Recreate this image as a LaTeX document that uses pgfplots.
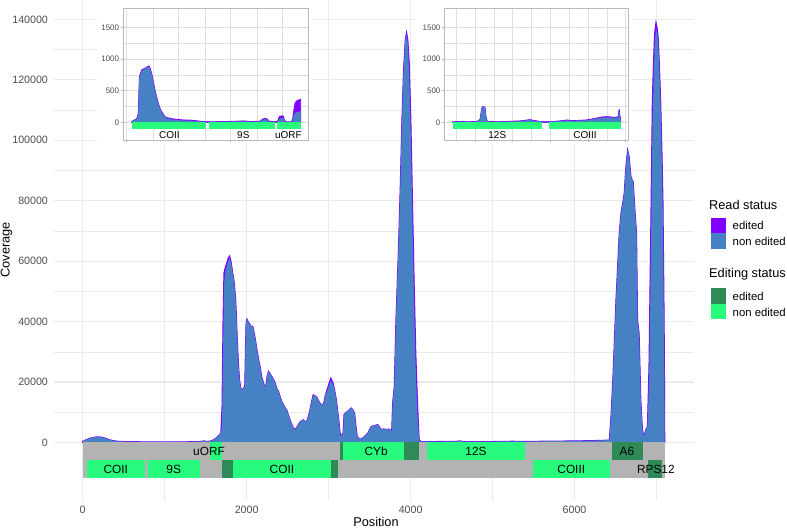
\documentclass[border=0pt]{standalone}
\usepackage{pgfplots}
\usepackage{pgfplotstable}
\pgfplotsset{compat=1.18}
\usepackage{fontspec}
\setmainfont{Liberation Sans}

\definecolor{EdPurple}{RGB}{127,0,255}
\definecolor{NeBlue}{RGB}{70,130,195}
\definecolor{EdGreen}{RGB}{46,139,87}
\definecolor{NeGreen}{RGB}{40,250,125}
\definecolor{TrackGray}{RGB}{179,179,179}
\definecolor{GridGray}{RGB}{235,235,235}
\definecolor{InsetGrid}{RGB}{222,222,222}
\definecolor{BoxGray}{RGB}{185,185,185}
\definecolor{TickGray}{RGB}{77,77,77}

% coverage along the whole maxicircle: position, all reads, non edited reads
\pgfplotstableread{
pos total nonedit
0 0 0
0 300 300
40 900 900
100 1500 1500
160 1800 1800
220 1800 1800
280 1400 1400
340 800 800
420 400 400
550 250 250
800 200 200
1000 150 150
1200 200 200
1400 250 250
1480 500 500
1520 300 300
1580 600 600
1630 1500 1500
1665 2500 2500
1685 3000 3000
1700 12000 6000
1712 40000 30000
1723 56000 52000
1740 58000 56500
1759 59500 58500
1775 61000 60200
1792 61700 61000
1808 60000 59500
1825 57000 57000
1844 53800 53800
1864 48300 48300
1875 42000 42000
1884 35000 35000
1900 26000 26000
1913 20700 20700
1930 17800 17800
1944 17400 17400
1960 17900 17900
1977 18500 18500
1985 30000 30000
1993 39500 39500
2003 40800 40800
2013 40200 40200
2025 39800 39800
2035 39200 39200
2046 38900 38900
2060 38000 38000
2075 38400 38400
2086 37000 37000
2097 35500 35500
2107 34000 34000
2127 30500 30500
2147 27300 27300
2165 25000 25000
2185 21500 21500
2207 19600 19600
2222 18500 18500
2235 18700 18700
2250 22000 22000
2268 23500 23500
2288 22600 22600
2308 21800 21800
2329 20800 20800
2349 19600 19600
2369 17800 17800
2389 16900 16900
2410 15000 15000
2430 13500 13500
2449 12500 12500
2469 11500 11500
2489 10800 10800
2510 9000 9000
2530 7500 7500
2550 6000 6000
2571 4900 4900
2591 4200 4200
2611 5000 5000
2631 5900 5900
2651 6800 6800
2671 7200 7200
2692 7500 7500
2711 7000 7000
2731 6900 6900
2751 8500 8500
2772 10800 10800
2792 13500 13500
2812 15800 15800
2832 15400 15400
2852 15200 15200
2873 14000 14000
2894 13000 13000
2914 12600 12600
2934 12500 12500
2948 14000 14000
2961 15800 15800
2978 17200 16800
2994 18500 17900
3010 20000 19300
3027 21300 20500
3041 20500 19900
3055 19600 19200
3075 17000 17000
3095 14100 14100
3110 10500 10500
3124 7500 7500
3136 4000 4000
3148 2000 2000
3165 2800 2800
3176 3100 3100
3188 9200 9200
3212 10000 10000
3236 10300 10300
3256 11000 11000
3276 11400 11400
3296 10800 10800
3317 9700 9700
3333 5500 5500
3349 2000 2000
3373 1300 1300
3397 1100 1100
3437 2000 2000
3478 3100 3100
3498 4200 4200
3518 5300 5300
3558 5600 5600
3599 5900 5900
3620 5200 5200
3639 4200 4200
3670 4500 4500
3700 4300 4300
3741 4400 4400
3769 3600 3600
3781 13000 13000
3801 18500 18500
3821 40600 40600
3850 62600 62600
3874 84700 84700
3894 106700 106700
3914 123200 123200
3935 133200 133200
3951 135600 135000
3966 133200 132000
3983 125500 122500
4003 106700 101000
4023 79200 72000
4044 51600 45000
4063 29600 24000
4084 13000 9000
4104 900 600
4124 300 300
4300 300 300
4550 350 350
4600 500 500
4650 300 300
5000 300 300
5250 400 400
5400 300 300
5600 400 400
6000 500 500
6200 600 600
6350 700 700
6424 800 800
6445 9000 9000
6465 19600 19600
6485 33000 33000
6505 47200 47200
6525 58000 58000
6545 69200 69200
6566 75800 75800
6586 79000 79000
6606 82500 82500
6626 91300 91300
6647 96800 96800
6666 94600 94600
6687 88000 88000
6700 87000 87000
6715 86300 86300
6739 75800 75800
6756 69200 69200
6768 40600 40600
6787 36200 36200
6808 14100 14100
6828 4200 4200
6848 2000 2000
6869 4200 4200
6889 5300 5300
6908 25100 20000
6929 69200 58000
6949 113300 103000
6963 126000 119000
6977 135400 131500
6993 138900 137000
7008 137000 135500
7022 133200 131800
7036 124000 122500
7050 113300 111000
7065 97000 93000
7078 80200 74000
7090 47200 38000
7095 30000 20000
7100 0 0
}\maincov

% zoom on COII / 9S / uORF
\pgfplotstableread{
pos total nonedit
48 0 0
48 15 15
96 60 55
111 145 140
121 720 710
144 830 820
176 855 845
208 890 880
220 880 870
240 775 765
256 640 630
272 510 500
288 400 390
304 300 290
320 225 215
336 170 160
357 115 105
378 80 70
430 60 50
481 50 40
540 40 32
609 38 30
680 25 18
737 15 10
763 12 8
820 12 8
950 15 10
1050 20 15
1121 25 18
1200 15 10
1280 20 15
1310 55 45
1330 66 55
1350 55 45
1370 20 12
1429 12 8
1450 20 10
1467 92 60
1490 105 70
1506 100 65
1515 40 20
1530 10 5
1586 12 5
1596 60 30
1602 145 90
1618 302 150
1634 340 160
1650 354 170
1665 360 175
1673 365 180
1673 0 0
}\insetA

% zoom on 12S / COIII
\pgfplotstableread{
pos total nonedit
4205 0 0
4205 12 10
4300 15 12
4400 12 10
4524 15 12
4568 50 48
4580 150 148
4590 223 220
4603 250 248
4620 245 243
4634 240 238
4647 92 90
4665 15 12
4800 12 10
4950 18 15
5100 25 20
5200 40 35
5232 45 38
5270 35 30
5387 12 10
5488 12 10
5560 18 15
5630 25 20
5719 39 32
5800 30 25
5900 35 30
5980 40 35
6051 55 48
6100 65 58
6161 82 72
6200 88 78
6250 92 82
6300 88 78
6338 82 72
6390 85 75
6405 95 85
6412 190 180
6418 198 188
6425 100 90
6436 80 70
6436 0 0
}\insetB

% one gene box: x from, x to, y from, y to, colour
\newcommand{\gene}[5]{\addplot[fill=#5, draw=none, forget plot] coordinates {(#1,#3) (#2,#3) (#2,#4) (#1,#4)} -- cycle;}

\begin{document}
\begin{tikzpicture}
% page = 787 x 528 px, origin at the lower left corner of the main panel
\useasboundingbox (-53.6bp,-27.2bp) rectangle (733.4bp,500.8bp);

\begin{axis}[
    at={(0,0)}, anchor=south west,
    scale only axis,
    width=640.4bp, height=500.8bp,
    xmin=-355, xmax=7457,
    ymin=-19300, ymax=146400,
    axis line style={draw=none},
    major tick length=0pt, minor tick length=0pt,
    xtick={0,2000,4000,6000},
    xticklabels={0,2000,4000,6000},
    minor xtick={1000,3000,5000,7000},
    ytick={0,20000,40000,60000,80000,100000,120000,140000},
    yticklabels={0,20000,40000,60000,80000,100000,120000,140000},
    minor ytick={10000,30000,50000,70000,90000,110000,130000},
    scaled ticks=false,
    grid=both,
    major grid style={draw=GridGray, line width=1.1bp},
    minor grid style={draw=GridGray, line width=0.55bp},
    tick label style={font=\fontsize{10.7}{12}\selectfont, text=TickGray},
    yticklabel style={anchor=east, inner sep=0pt, xshift=-5.5bp},
    xticklabel style={anchor=north, inner sep=0pt, yshift=-5.5bp},
]

\addplot[fill=EdPurple, draw=EdPurple, line width=1.1bp] table[x=pos, y=total] {\maincov} -- cycle;
\addplot[fill=NeBlue, draw=none] table[x=pos, y=nonedit] {\maincov} -- cycle;

% upper track
\gene{0}{7102}{-5950}{0}{TrackGray}
\gene{1550}{1695}{-5950}{0}{NeGreen}
\gene{3135}{3176}{-5950}{0}{EdGreen}
\gene{3176}{3923}{-5950}{0}{NeGreen}
\gene{3923}{4105}{-5950}{0}{EdGreen}
\gene{4205}{5390}{-5950}{0}{NeGreen}
\gene{6459}{6830}{-5950}{0}{EdGreen}
% lower track
\gene{0}{7102}{-11700}{-5950}{TrackGray}
\gene{48}{763}{-11700}{-5950}{NeGreen}
\gene{794}{1429}{-11700}{-5950}{NeGreen}
\gene{1695}{1836}{-11700}{-5950}{EdGreen}
\gene{1836}{3034}{-11700}{-5950}{NeGreen}
\gene{3034}{3115}{-11700}{-5950}{EdGreen}
\gene{5490}{6436}{-11700}{-5950}{NeGreen}
\gene{6901}{7071}{-11700}{-5950}{EdGreen}

\begin{scope}[font=\fontsize{11.9}{13}\selectfont]
\node at (axis cs:1541,-2975) {uORF};
\node at (axis cs:3579,-2975) {CYb};
\node at (axis cs:4798,-2975) {12S};
\node at (axis cs:6638,-2975) {A6};
\node at (axis cs:403,-8825) {COII};
\node at (axis cs:1110,-8825) {9S};
\node at (axis cs:2430,-8825) {COII};
\node at (axis cs:5960,-8825) {COIII};
\node at (axis cs:6992,-8825) {RPS12};
\end{scope}
\end{axis}

% titles, legend and inset backgrounds in picture pixels
\begin{scope}[x=1bp, y=-1bp, shift={(-53.6bp,500.8bp)}]
\node[font=\fontsize{12.8}{14}\selectfont] at (376,522) {Position};
\node[font=\fontsize{12.8}{14}\selectfont, rotate=90] at (6.5,250) {Coverage};

\node[anchor=west, font=\fontsize{12.8}{14}\selectfont, inner sep=0pt] at (709,204.5) {Read status};
\fill[EdPurple] (711,218) rectangle (725.5,233.5);
\fill[NeBlue] (711,233.5) rectangle (725.5,249);
\node[anchor=west, font=\fontsize{11.4}{13}\selectfont, inner sep=0pt] at (732.5,225.7) {edited};
\node[anchor=west, font=\fontsize{11.4}{13}\selectfont, inner sep=0pt] at (732.5,241.5) {non edited};

\node[anchor=west, font=\fontsize{12.8}{14}\selectfont, inner sep=0pt] at (709,274.3) {Editing status};
\fill[EdGreen] (711,288.5) rectangle (725.5,304);
\fill[NeGreen] (711,304) rectangle (725.5,319.5);
\node[anchor=west, font=\fontsize{11.4}{13}\selectfont, inner sep=0pt] at (732.5,296.5) {edited};
\node[anchor=west, font=\fontsize{11.4}{13}\selectfont, inner sep=0pt] at (732.5,312.5) {non edited};

\fill[white] (97,0) rectangle (312,145);
\fill[white] (416,0) rectangle (632,145);
\end{scope}

\pgfplotsset{inset/.style={
    scale only axis,
    anchor=south west,
    height=132bp,
    ymin=-276, ymax=1804,
    axis line style={draw=BoxGray, line width=0.7bp},
    ytick={0,500,1000,1500},
    yticklabels={0,500,1000,1500},
    minor ytick={250,750,1250},
    xticklabels={},
    scaled ticks=false,
    tick align=outside, xtick pos=bottom, ytick pos=left,
    major tick length=2.2bp, minor tick length=0pt,
    tick style={draw=BoxGray, line width=0.6bp},
    grid=both,
    major grid style={draw=InsetGrid, line width=0.6bp},
    minor grid style={draw=InsetGrid, line width=0.3bp},
    yticklabel style={font=\fontsize{8}{9}\selectfont, text=TickGray, inner sep=0pt, xshift=-1.5bp},
}}

\begin{axis}[
    inset,
    at={(69.4bp,360.8bp)},
    width=185bp,
    xmin=-36, xmax=1743,
    xtick={0,500,1000,1500},
    minor xtick={250,750,1250},
]
\addplot[fill=EdPurple, draw=EdPurple, line width=0.8bp] table[x=pos, y=total] {\insetA} -- cycle;
\addplot[fill=NeBlue, draw=none] table[x=pos, y=nonedit] {\insetA} -- cycle;
\gene{48}{763}{-95}{0}{NeGreen}
\gene{794}{1429}{-95}{0}{NeGreen}
\gene{1448}{1673}{-95}{0}{NeGreen}
\begin{scope}[font=\fontsize{10}{11}\selectfont]
\node at (axis cs:410,-197) {COII};
\node at (axis cs:1121,-197) {9S};
\node at (axis cs:1554,-197) {uORF};
\end{scope}
\end{axis}

\begin{axis}[
    inset,
    at={(390.7bp,360.8bp)},
    width=184bp,
    xmin=4093, xmax=6537,
    xtick={4500,5000,5500,6000,6500},
    minor xtick={4250,4750,5250,5750,6250},
]
\addplot[fill=EdPurple, draw=EdPurple, line width=0.8bp] table[x=pos, y=total] {\insetB} -- cycle;
\addplot[fill=NeBlue, draw=none] table[x=pos, y=nonedit] {\insetB} -- cycle;
\gene{4205}{5387}{-95}{0}{NeGreen}
\gene{5488}{6436}{-95}{0}{NeGreen}
\begin{scope}[font=\fontsize{10}{11}\selectfont]
\node at (axis cs:4797,-197) {12S};
\node at (axis cs:5962,-197) {COIII};
\end{scope}
\end{axis}

\end{tikzpicture}
\end{document}
